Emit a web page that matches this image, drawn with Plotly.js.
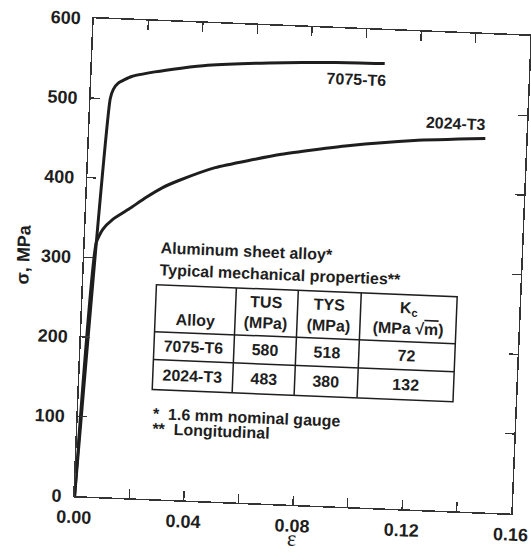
<!DOCTYPE html>
<html>
<head>
<meta charset="utf-8">
<script src="https://cdn.plot.ly/plotly-3.0.1.min.js"></script>
<style>
  html, body { margin: 0; padding: 0; background: #ffffff; overflow: hidden; width: 531px; height: 560px; }
  #chart { position: absolute; left: 0; top: 0; width: 560px; height: 600px;
           transform-origin: 302.75px 266.3px; transform: rotate(2.3deg); }
</style>
</head>
<body>
<div id="chart"></div>
<script>
// Stress-strain curves (strain, stress in MPa)
const strain7075 = [0, 0.0072, 0.0082, 0.0099, 0.0147, 0.0231, 0.0327, 0.0424, 0.0646, 0.0892, 0.1071];
const stress7075 = [0, 500, 512, 520, 529, 536, 542, 547, 553, 557, 558];
const strain2024 = [0, 0.0042, 0.0064, 0.0099, 0.0158, 0.0217, 0.0275, 0.0335, 0.0466, 0.0707, 0.0948, 0.119, 0.145];
const stress2024 = [0, 319, 336, 349, 363, 378, 391, 401, 419, 439, 453, 463, 469];
const curveNames = ['7075-T6', '2024-T3'];

// Axis ticks and titles
const xTickVals = [0, 0.02, 0.04, 0.06, 0.08, 0.10, 0.12, 0.14, 0.16];
const xTickText = ['0.00', '', '0.04', '', '0.08', '', '0.12', '', '0.16'];
const yTickVals = [0, 100, 200, 300, 400, 500, 600];
const xTitle = 'ε';
const yTitle = 'σ, MPa';

// Inset table
const tableHeader = ['Alloy', 'TUS<br>(MPa)', 'TYS<br>(MPa)', 'K<sub>c</sub><br>(MPa √<span style="text-decoration:overline">m</span>)'];
const alloys = ['7075-T6', '2024-T3'];
const tus = [580, 483];
const tys = [518, 380];
const kc = [72, 132];
const tableTitle = ['Aluminum sheet alloy*', 'Typical mechanical properties**'];
const footnotes = ['*  1.6 mm nominal gauge', '**  Longitudinal'];

// ---- styling / geometry ----
const ink = '#1e1e1e';
const sans = 'Liberation Sans, Arial, Helvetica, sans-serif';
const boldFont = (s) => ({ family: sans, size: s, color: ink, weight: 'bold' });
const W = 437, H = 478; // plot area size in px
const tbl = { x0: 0.1677, yTop: 0.4487, colPx: [80, 62, 63, 96], rowPx: [47, 28, 30] };

const shapes = [];
const annotations = [];

// table grid
const colEdges = [tbl.x0];
tbl.colPx.forEach(w => colEdges.push(colEdges[colEdges.length - 1] + w / W));
const rowEdges = [tbl.yTop];
tbl.rowPx.forEach(h => rowEdges.push(rowEdges[rowEdges.length - 1] - h / H));
const tx1 = colEdges[colEdges.length - 1], ty1 = rowEdges[rowEdges.length - 1];
const lineStyle = { color: ink, width: 1.5 };
shapes.push({ type: 'rect', xref: 'paper', yref: 'paper', x0: tbl.x0, x1: tx1, y0: ty1, y1: tbl.yTop, line: lineStyle, fillcolor: '#ffffff', layer: 'above' });
colEdges.slice(1, -1).forEach(x => shapes.push({ type: 'line', xref: 'paper', yref: 'paper', x0: x, x1: x, y0: ty1, y1: tbl.yTop, line: lineStyle }));
rowEdges.slice(1, -1).forEach(y => shapes.push({ type: 'line', xref: 'paper', yref: 'paper', x0: tbl.x0, x1: tx1, y0: y, y1: y, line: lineStyle }));

const colMid = (c) => (colEdges[c] + colEdges[c + 1]) / 2;
const rowMid = (r) => (rowEdges[r] + rowEdges[r + 1]) / 2;
tableHeader.forEach((t, c) => {
  const single = !t.includes('<br>');
  annotations.push({ xref: 'paper', yref: 'paper', x: colMid(c),
    y: single ? rowEdges[0] - 34 / H : rowMid(0), xanchor: 'center', yanchor: 'middle',
    text: t, showarrow: false, font: boldFont(16) });
});
const tableCols = [alloys, tus, tys, kc];
tableCols.forEach((col, c) => col.forEach((v, r) => {
  annotations.push({ xref: 'paper', yref: 'paper', x: colMid(c), y: rowMid(r + 1),
    xanchor: 'center', yanchor: 'middle', text: String(v), showarrow: false, font: boldFont(16) });
}));
[0.526, 0.480].forEach((y, i) => annotations.push({ xref: 'paper', yref: 'paper', x: 0.170, y: y,
  xanchor: 'left', yanchor: 'middle', text: tableTitle[i], showarrow: false, font: boldFont(16) }));
[0.178, 0.147].forEach((y, i) => annotations.push({ xref: 'paper', yref: 'paper', x: 0.168, y: y,
  xanchor: 'left', yanchor: 'middle', text: footnotes[i], showarrow: false, font: boldFont(16) }));

// curve labels
annotations.push({ x: 0.097, y: 537, xref: 'x', yref: 'y', text: curveNames[0], showarrow: false, font: boldFont(16) });
annotations.push({ x: 0.134, y: 486, xref: 'x', yref: 'y', text: curveNames[1], showarrow: false, font: boldFont(16) });

// x-axis title (placed as annotation so it stays inside the picture)
annotations.push({ xref: 'paper', yref: 'paper', x: 0.5, y: -0.071, xanchor: 'center', yanchor: 'middle',
  text: xTitle, showarrow: false, font: { family: 'Liberation Serif, Times New Roman, serif', size: 22, color: ink } });

const traces = [
  { x: strain7075, y: stress7075, name: curveNames[0], type: 'scatter', mode: 'lines',
    line: { color: ink, width: 3, shape: 'spline', smoothing: 0.5 }, showlegend: false, hoverinfo: 'skip' },
  { x: strain2024, y: stress2024, name: curveNames[1], type: 'scatter', mode: 'lines',
    line: { color: ink, width: 3, shape: 'spline', smoothing: 0.5 }, showlegend: false, hoverinfo: 'skip' }
];

const axisCommon = {
  showgrid: false, zeroline: false, showline: true, linecolor: '#333', linewidth: 1.5,
  mirror: 'ticks', ticks: 'inside', ticklen: 9, tickwidth: 1.3, tickcolor: '#333',
  tickfont: boldFont(18)
};

const layout = {
  width: 560, height: 600,
  margin: { l: 84, r: 39, t: 27, b: 95 },
  paper_bgcolor: '#ffffff', plot_bgcolor: '#ffffff',
  showlegend: false,
  xaxis: Object.assign({}, axisCommon, {
    range: [0, 0.16], tickmode: 'array', tickvals: xTickVals, ticktext: xTickText,
    ticklabelstandoff: 4
  }),
  yaxis: Object.assign({}, axisCommon, {
    range: [0, 600], tickmode: 'array', tickvals: yTickVals,
    ticklabelstandoff: 8,
    title: { text: yTitle, font: boldFont(18), standoff: 6 }
  }),
  shapes: shapes,
  annotations: annotations
};

Plotly.newPlot('chart', traces, layout, { displayModeBar: false, staticPlot: true });
</script>
</body>
</html>
